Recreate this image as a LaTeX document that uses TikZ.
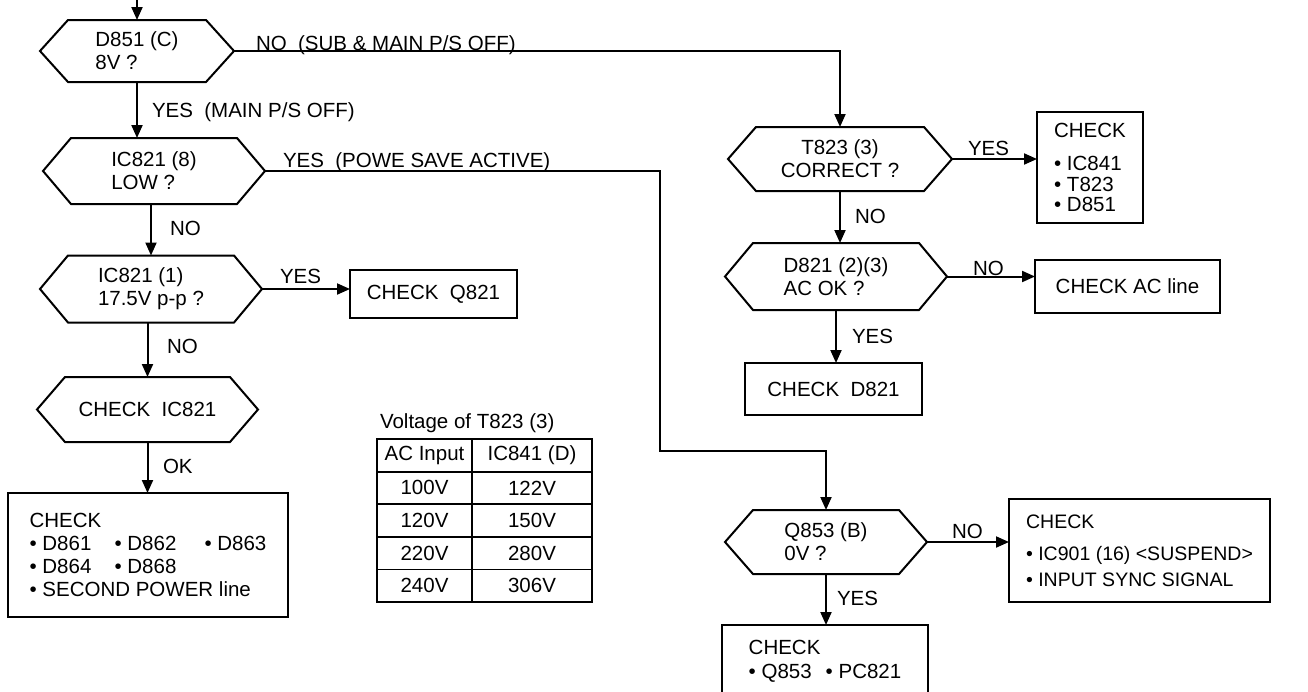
\documentclass[tikz,border=0pt]{standalone}
\usepackage{fontspec}
\setmainfont{Liberation Sans}
\usetikzlibrary{arrows.meta}
\newcommand\drawhex[1]{\draw[ln] ([xshift=28pt]#1.north west) -- ([xshift=-28pt]#1.north east) -- (#1.east) -- ([xshift=-28pt]#1.south east) -- ([xshift=28pt]#1.south west) -- (#1.west) -- cycle;}
\begin{document}
\begin{tikzpicture}[x=1pt,y=-1pt,
 every node/.style={font=\fontsize{20.5}{23}\selectfont, inner sep=0pt, outer sep=0pt},
 ln/.style={line width=2pt, line join=miter},
 arr/.style={ln, -{Triangle[length=13pt,width=11pt]}},
 hex/.style={align=left},
 box/.style={draw, line width=2pt, align=left},
 cell/.style={draw, line width=1.8pt, minimum height=32.6pt},
 lbl/.style={anchor=base west}]
\useasboundingbox (0,0) rectangle (1308,691);

% decision hexagons
\node[hex, minimum width=194pt, minimum height=62pt] (d851) at (137,51) {D851 (C)\\8V ?};
\node[hex, minimum width=222pt, minimum height=66pt] (ic8) at (154,171) {IC821 (8)\\LOW ?};
\node[hex, minimum width=222pt, minimum height=67pt] (ic1) at (151,289) {IC821 (1)\\17.5V p-p ?};
\node[hex, minimum width=221pt, minimum height=65pt] (chk) at (147.5,409.5) {CHECK\ \ IC821};
\node[hex, align=center, minimum width=224pt, minimum height=64pt] (t823) at (840,159) {T823 (3)\\CORRECT ?};
\node[hex, minimum width=222pt, minimum height=67pt] (d821) at (836,276.5) {D821 (2)(3)\\AC OK ?};
\node[hex, minimum width=202pt, minimum height=64pt] (q853) at (826,542) {Q853 (B)\\0V ?};
\foreach \h in {d851,ic8,ic1,chk,t823,d821,q853} {\drawhex{\h}}

% result boxes
\node[box, minimum width=280pt, minimum height=124pt] (bl) at (148,555)
 {CHECK\\\makebox[85pt][l]{• D861}\makebox[90pt][l]{• D862}• D863\\\makebox[85pt][l]{• D864}• D868\\• SECOND POWER line\hspace*{12pt}};
\node[box, minimum width=167pt, minimum height=48pt] (q821) at (433.5,294) {CHECK\ \ Q821};
\node[box, minimum width=106pt, minimum height=111pt, font=\fontsize{20.5}{20.5}\selectfont] (tchk) at (1090,167.5)
 {CHECK\\[13pt]• IC841\\• T823\\• D851};
\node[box, minimum width=185pt, minimum height=53pt] (acl) at (1127.5,286.5) {CHECK AC line};
\node[box, minimum width=261pt, minimum height=103pt, font=\fontsize{19.5}{26}\selectfont] (qbox) at (1139.5,550.5)
 {CHECK\\[6pt]• IC901 (16) <SUSPEND>\\• INPUT SYNC SIGNAL};
\node[box, minimum width=177pt, minimum height=52pt] (d821c) at (833.5,389) {CHECK\ \ D821};
\node[box, minimum width=206pt, minimum height=72pt, font=\fontsize{20.5}{24}\selectfont] (pcb) at (825,661)
 {CHECK\\• Q853\hspace{14pt}• PC821};

% table
\node[lbl] (ttl) at (380,428) {Voltage of T823 (3)};
\foreach \a/\b [count=\i from 0] in {AC Input/IC841 (D),100V/122V,120V/150V,220V/280V,240V/306V} {
 \node[cell, minimum width=95pt] (ta\i) at (424.5,{455.3+32.6*\i}) {\a};
 \node[cell, minimum width=120pt] (tb\i) at (532,{455.3+32.6*\i}) {\b};
}

% connectors
\coordinate (top) at (137,0);
\draw[arr] (top) -- (d851.north);
\draw[arr] (d851.east) -| (t823.north);
\draw[arr] (d851.south) -- (d851.south |- ic8.north);
\coordinate (bend) at (660,451);
\draw[arr] (ic8.east) -| (bend) -| (q853.north);
\draw[arr] (ic1.north |- ic8.south) -- (ic1.north);
\draw[arr] (ic1.east) -- (ic1.east -| q821.west);
\draw[arr] (chk.north |- ic1.south) -- (chk.north);
\draw[arr] (chk.south) -- (chk.south |- bl.north);
\draw[arr] (t823.east) -- (t823.east -| tchk.west);
\draw[arr] (t823.south) -- (t823.south |- d821.north);
\draw[arr] (d821.east) -- (d821.east -| acl.west);
\draw[arr] (d821.south) -- (d821.south |- d821c.north);
\draw[arr] (q853.east) -- (q853.east -| qbox.west);
\draw[arr] (q853.south) -- (q853.south |- pcb.north);

% connector labels
\node[lbl] (l1) at (256,50) {NO\ \ (SUB \& MAIN P/S OFF)};
\node[lbl] (l2) at (152,117) {YES\ \ (MAIN P/S OFF)};
\node[lbl] (l3) at (283,167) {YES\ \ (POWE SAVE ACTIVE)};
\node[lbl] (l4) at (170,235) {NO};
\node[lbl] (l5) at (280,283) {YES};
\node[lbl] (l6) at (167,353) {NO};
\node[lbl] (l7) at (163,473) {OK};
\node[lbl] (l8) at (968,155) {YES};
\node[lbl] (l9) at (855,223) {NO};
\node[lbl] (l10) at (973,275) {NO};
\node[lbl] (l11) at (852,343) {YES};
\node[lbl] (l12) at (952,538) {NO};
\node[lbl] (l13) at (837,605) {YES};
\end{tikzpicture}
\end{document}
